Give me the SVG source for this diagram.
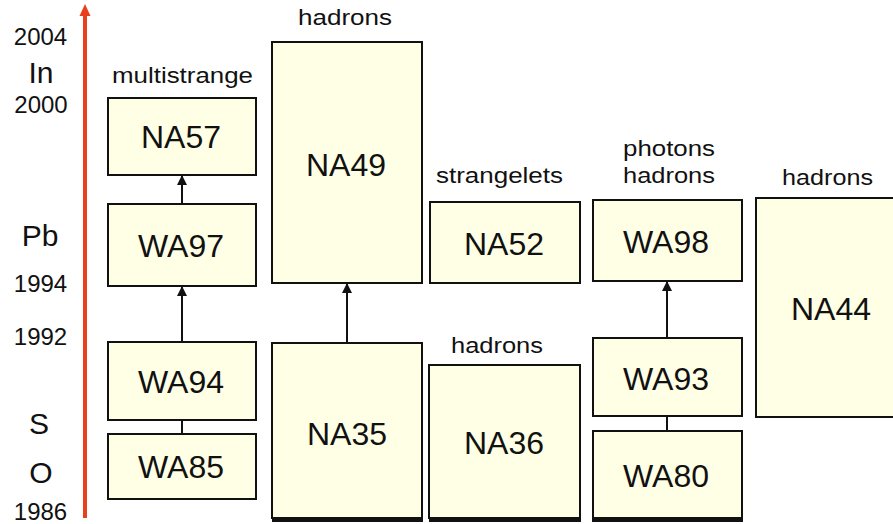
<svg xmlns="http://www.w3.org/2000/svg" width="893" height="524" viewBox="0 0 893 524">
<style>
.box{fill:#FFFFE6;stroke:#111;stroke-width:2}
.bar{fill:#111}
.lbl{font-family:"Liberation Sans",Arial,sans-serif;font-size:32px;fill:#111;text-anchor:middle}
.cap{font-family:"Liberation Sans",Arial,sans-serif;font-size:22.5px;fill:#111;text-anchor:middle}
.yr{font-family:"Liberation Sans",Arial,sans-serif;font-size:24px;fill:#111;text-anchor:middle}
.el{font-family:"Liberation Sans",Arial,sans-serif;font-size:30px;fill:#111;text-anchor:middle}
.con{stroke:#111;stroke-width:2;fill:none}
</style>
<defs>
<marker id="ah" viewBox="0 0 10 10" refX="10" refY="5" markerWidth="5.5" markerHeight="5" markerUnits="strokeWidth" orient="auto">
<path d="M0,0 L10,5 L0,10 Z" fill="#111"/>
</marker>
</defs>
<rect width="893" height="524" fill="#fff"/>
<g id="axis">
<line x1="85" y1="14" x2="85" y2="518" stroke="#E8401C" stroke-width="4"/>
<polygon points="85,4 79.5,16 90.5,16" fill="#E8401C"/>
<text class="yr" x="40.5" y="45">2004</text>
<text class="el" x="41" y="83">In</text>
<text class="yr" x="41" y="113">2000</text>
<text class="el" x="40" y="246">Pb</text>
<text class="yr" x="40.5" y="292">1994</text>
<text class="yr" x="40.5" y="345">1992</text>
<text class="el" x="39" y="434">S</text>
<text class="el" x="41" y="483">O</text>
<text class="yr" x="40.5" y="520">1986</text>
</g>
<g id="connectors">
<line class="con" x1="182" y1="204" x2="182" y2="175" marker-end="url(#ah)"/>
<line class="con" x1="182" y1="342" x2="182" y2="286" marker-end="url(#ah)"/>
<line class="con" x1="182" y1="420" x2="182" y2="434"/>
<line class="con" x1="347" y1="343" x2="347" y2="283" marker-end="url(#ah)"/>
<line class="con" x1="667" y1="338" x2="667" y2="281" marker-end="url(#ah)"/>
<line class="con" x1="667" y1="416" x2="667" y2="431"/>
</g>
<g id="NA57">
<text class="cap" x="182.5" y="83" textLength="141" lengthAdjust="spacingAndGlyphs">multistrange</text>
<rect class="box" x="108" y="98" width="148" height="77"/>
<text class="lbl" x="181" y="148">NA57</text>
</g>
<g id="WA97">
<rect class="box" x="108" y="204" width="148" height="82"/>
<text class="lbl" x="181" y="257">WA97</text>
</g>
<g id="WA94">
<rect class="box" x="108" y="342" width="148" height="78"/>
<text class="lbl" x="181" y="393">WA94</text>
</g>
<g id="WA85">
<rect class="box" x="108" y="434" width="148" height="65"/>
<text class="lbl" x="181" y="478">WA85</text>
</g>
<g id="NA49">
<text class="cap" x="345" y="25" textLength="94" lengthAdjust="spacingAndGlyphs">hadrons</text>
<rect class="box" x="272" y="42" width="150" height="241"/>
<text class="lbl" x="346" y="176">NA49</text>
</g>
<g id="NA35">
<rect class="box" x="272" y="343" width="150" height="175"/>
<rect class="bar" x="272" y="517" width="151" height="5"/>
<text class="lbl" x="347" y="445">NA35</text>
</g>
<g id="NA52">
<text class="cap" x="499.5" y="183" textLength="127" lengthAdjust="spacingAndGlyphs">strangelets</text>
<rect class="box" x="430" y="202" width="150" height="81"/>
<text class="lbl" x="504" y="255">NA52</text>
</g>
<g id="NA36">
<text class="cap" x="497" y="353" textLength="92" lengthAdjust="spacingAndGlyphs">hadrons</text>
<rect class="box" x="429" y="365" width="151" height="153"/>
<rect class="bar" x="429" y="517" width="152" height="5"/>
<text class="lbl" x="504" y="454">NA36</text>
</g>
<g id="WA98">
<text class="cap" x="669" y="156" textLength="92" lengthAdjust="spacingAndGlyphs">photons</text>
<text class="cap" x="669" y="183" textLength="92" lengthAdjust="spacingAndGlyphs">hadrons</text>
<rect class="box" x="593" y="200" width="149" height="81"/>
<text class="lbl" x="666" y="253">WA98</text>
</g>
<g id="WA93">
<rect class="box" x="593" y="338" width="149" height="78"/>
<text class="lbl" x="666" y="390">WA93</text>
</g>
<g id="WA80">
<rect class="box" x="593" y="431" width="149" height="87"/>
<rect class="bar" x="592" y="517" width="151" height="5"/>
<text class="lbl" x="666" y="487">WA80</text>
</g>
<g id="NA44">
<text class="cap" x="827.5" y="185" textLength="91" lengthAdjust="spacingAndGlyphs">hadrons</text>
<rect class="box" x="756" y="198" width="150" height="219"/>
<text class="lbl" x="831" y="320">NA44</text>
</g>
</svg>
